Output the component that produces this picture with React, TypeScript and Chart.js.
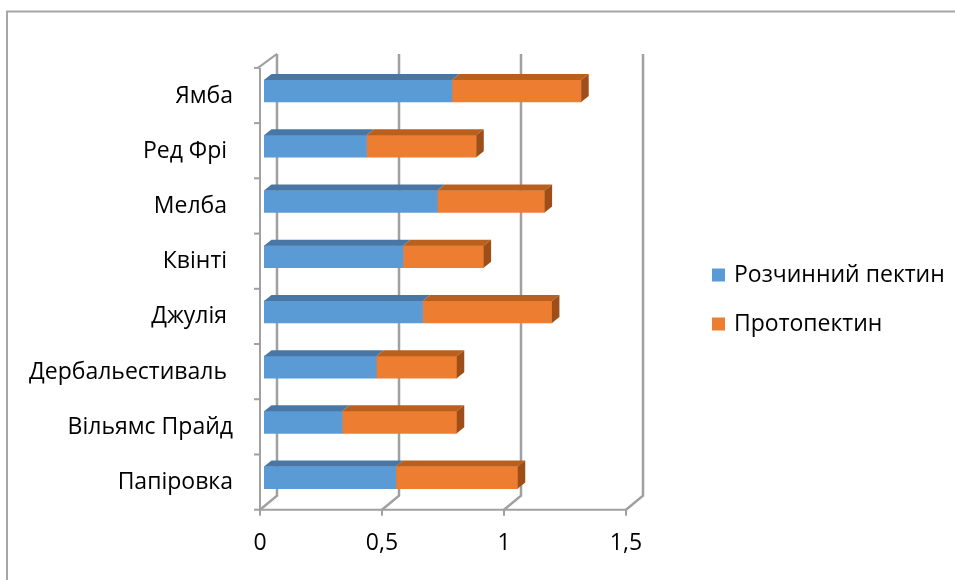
import React, { useEffect, useRef } from 'react';
import { Chart, registerables } from 'chart.js';

Chart.register(...registerables);

const categories = ['Ямба', 'Ред Фрі ', 'Мелба ', 'Квінті ', 'Джулія ', 'Дербальестиваль ', 'Вільямс Прайд', 'Папіровка'];
const solublePectin = [0.77, 0.42, 0.71, 0.57, 0.65, 0.46, 0.32, 0.54];
const protopectin = [0.53, 0.45, 0.44, 0.33, 0.53, 0.33, 0.47, 0.5];
const seriesNames = ['Розчинний пектин', 'Протопектин'];
const xTickValues = [0, 0.5, 1, 1.5];
const xTickLabels = ['0', '0,5', '1', '1,5'];

const FONT_FAMILY = '"Open Sans", "Noto Sans", sans-serif';
const FONT_SIZE = 23;
const GRID = '#a0a0a0';
const FRONT = { dx: -4, dy: 4.5 };
const BACK = { dx: 13, dy: -9.5 };
const BAR_DEPTH = { dx: 7.5, dy: 6 };
const topColors = ['#4877a6', '#b9601f'];
const sideColors = ['#3f6a94', '#9d4e19'];

const framePlugin = {
  id: 'frame3d',
  beforeDraw(chart: any) {
    const ctx = chart.ctx;
    ctx.save();
    ctx.strokeStyle = '#a6a6a6';
    ctx.lineWidth = 2;
    ctx.beginPath();
    ctx.moveTo(7, 580);
    ctx.lineTo(7, 11.5);
    ctx.lineTo(955, 11.5);
    ctx.stroke();
    ctx.restore();
  },
  beforeDatasetsDraw(chart: any) {
    const ctx = chart.ctx;
    const xs = chart.scales.x;
    const area = chart.chartArea;
    const fTop = area.top + FRONT.dy;
    const fBot = area.bottom + FRONT.dy;
    const bTop = area.top + BACK.dy;
    const bBot = area.bottom + BACK.dy;
    ctx.save();
    ctx.strokeStyle = GRID;
    ctx.lineCap = 'butt';
    ctx.lineWidth = 2.5;
    xTickValues.forEach((v) => {
      const p = xs.getPixelForValue(v);
      ctx.beginPath();
      ctx.moveTo(p + BACK.dx, bTop);
      ctx.lineTo(p + BACK.dx, bBot);
      ctx.lineTo(p + FRONT.dx, fBot);
      ctx.stroke();
    });
    ctx.lineWidth = 2;
    const x0 = xs.getPixelForValue(0);
    ctx.beginPath();
    ctx.moveTo(x0 + FRONT.dx - 2, fTop);
    ctx.lineTo(x0 + BACK.dx, bTop);
    ctx.stroke();
    ctx.beginPath();
    ctx.moveTo(x0 + FRONT.dx, fTop);
    ctx.lineTo(x0 + FRONT.dx, fBot);
    ctx.stroke();
    const n = categories.length;
    const band = (area.bottom - area.top) / n;
    for (let i = 0; i <= n; i++) {
      const y = area.top + i * band + FRONT.dy;
      ctx.beginPath();
      ctx.moveTo(x0 + FRONT.dx - 6, y);
      ctx.lineTo(x0 + FRONT.dx, y);
      ctx.stroke();
    }
    const xEnd = xs.getPixelForValue(xTickValues[xTickValues.length - 1]);
    ctx.beginPath();
    ctx.moveTo(x0 + FRONT.dx, fBot);
    ctx.lineTo(xEnd + FRONT.dx, fBot);
    ctx.stroke();
    xTickValues.forEach((v) => {
      const p = xs.getPixelForValue(v) + FRONT.dx;
      ctx.beginPath();
      ctx.moveTo(p, fBot);
      ctx.lineTo(p, fBot + 6);
      ctx.stroke();
    });
    ctx.restore();
  },
  afterDatasetsDraw(chart: any) {
    const ctx = chart.ctx;
    const nd = chart.data.datasets.length;
    ctx.save();
    for (let di = 0; di < nd; di++) {
      const meta = chart.getDatasetMeta(di);
      meta.data.forEach((el: any) => {
        const { x, y, base, height } = el.getProps(['x', 'y', 'base', 'height'], true);
        const top = y - height / 2;
        const bot = y + height / 2;
        ctx.fillStyle = topColors[di];
        ctx.beginPath();
        ctx.moveTo(base, top);
        ctx.lineTo(x, top);
        ctx.lineTo(x + BAR_DEPTH.dx, top - BAR_DEPTH.dy);
        ctx.lineTo(base + BAR_DEPTH.dx, top - BAR_DEPTH.dy);
        ctx.closePath();
        ctx.fill();
        if (di === nd - 1) {
          ctx.fillStyle = sideColors[di];
          ctx.beginPath();
          ctx.moveTo(x, top);
          ctx.lineTo(x + BAR_DEPTH.dx, top - BAR_DEPTH.dy);
          ctx.lineTo(x + BAR_DEPTH.dx, bot - BAR_DEPTH.dy);
          ctx.lineTo(x, bot);
          ctx.closePath();
          ctx.fill();
        }
      });
    }
    ctx.restore();
  },
  afterDraw(chart: any) {
    const ctx = chart.ctx;
    ctx.save();
    ctx.font = `${FONT_SIZE}px ${FONT_FAMILY}`;
    ctx.textBaseline = 'middle';
    ctx.textAlign = 'left';
    chart.data.datasets.forEach((ds: any, i: number) => {
      const y = 275 + i * 49;
      ctx.fillStyle = ds.backgroundColor;
      ctx.fillRect(712, y - 6.5, 13, 13);
      ctx.fillStyle = '#000';
      ctx.fillText(ds.label, 734, y);
    });
    ctx.restore();
  },
};

export default function App() {
  const ref = useRef<HTMLCanvasElement>(null);
  useEffect(() => {
    if (!ref.current) return;
    const chart = new Chart(ref.current, {
      type: 'bar',
      data: {
        labels: categories,
        datasets: [
          { label: seriesNames[0], data: solublePectin, backgroundColor: '#5b9bd5', barThickness: 22 },
          { label: seriesNames[1], data: protopectin, backgroundColor: '#ed7d31', barThickness: 22 },
        ],
      },
      options: {
        indexAxis: 'y',
        responsive: false,
        animation: false,
        layout: { padding: { left: 0, right: 325, top: 63.4, bottom: 0 } },
        plugins: { legend: { display: false }, tooltip: { enabled: false } },
        scales: {
          x: {
            stacked: true,
            min: 0,
            max: 1.5,
            afterBuildTicks: (s: any) => { s.ticks = xTickValues.map((v) => ({ value: v })); },
            afterFit: (s: any) => { s.height = 580 - 505.2; },
            ticks: {
              callback: (_v: any, i: number) => xTickLabels[i],
              labelOffset: -4,
              padding: 24,
              color: '#000',
              font: { family: FONT_FAMILY, size: FONT_SIZE },
              maxRotation: 0,
            },
            grid: { display: false, drawTicks: false },
            border: { display: false },
          },
          y: {
            stacked: true,
            afterFit: (s: any) => { s.width = 264; },
            ticks: {
              padding: 31,
              labelOffset: 5,
              color: '#000',
              font: { family: FONT_FAMILY, size: FONT_SIZE },
            },
            grid: { display: false, drawTicks: false },
            border: { display: false },
          },
        },
      },
      plugins: [framePlugin],
    });
    return () => chart.destroy();
  }, []);
  return (
    <div style={{ position: 'fixed', left: 0, top: 0, width: 955, height: 580, background: '#fff' }}>
      <canvas ref={ref} width={955} height={580} style={{ display: 'block' }} />
    </div>
  );
}
